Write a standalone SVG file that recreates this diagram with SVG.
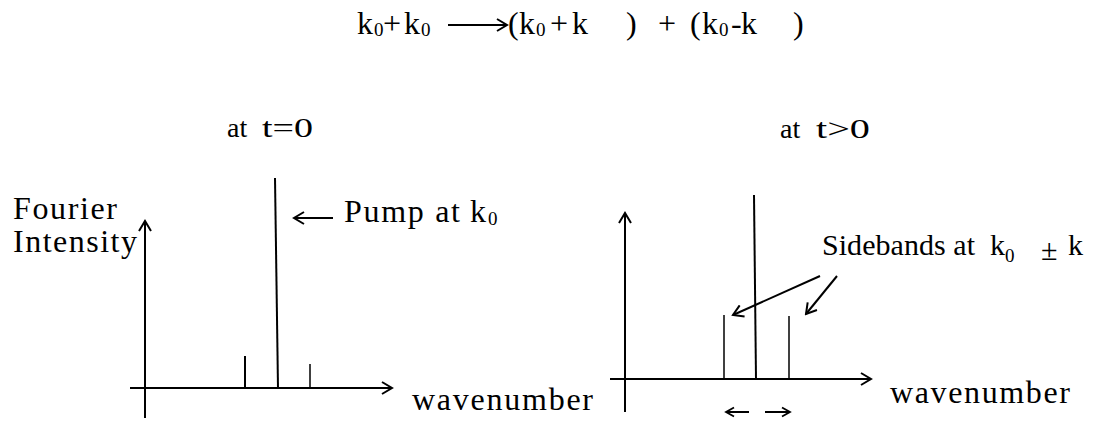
<svg xmlns="http://www.w3.org/2000/svg" width="1105" height="421" viewBox="0 0 1105 421">
<style>
text{font-family:Liberation Serif,Times New Roman,Times,DejaVu Serif,serif;fill:#000}
.eq{font-size:32px}
.sub{font-size:19px}
.lbl{font-size:30px}
.big{font-size:32px}
.ttl{font-size:28px}
.ln{stroke:#000;fill:none}
</style>
<defs>
<marker id="ah" markerWidth="14" markerHeight="14" refX="12" refY="7" orient="auto" markerUnits="userSpaceOnUse"><path d="M2,1 L12,7 L2,13" fill="none" stroke="#000" stroke-width="2"/></marker>
<marker id="ahs" markerWidth="12" markerHeight="12" refX="10" refY="6" orient="auto" markerUnits="userSpaceOnUse"><path d="M2,1.5 L10,6 L2,10.5" fill="none" stroke="#000" stroke-width="1.8"/></marker>
</defs>
<rect width="1105" height="421" fill="#fff"/>
<g id="equation">
<text class="eq" x="357" y="34">k</text><text class="sub" x="374" y="36">0</text>
<text class="eq" x="383" y="34">+</text>
<text class="eq" x="404" y="34">k</text><text class="sub" x="421" y="36">0</text>
<line class="ln" x1="448" y1="25" x2="507" y2="25" stroke-width="2" marker-end="url(#ah)"/>
<text class="eq" x="508" y="34">(</text>
<text class="eq" x="519" y="34">k</text><text class="sub" x="536" y="36">0</text>
<text class="eq" x="550" y="34">+</text>
<text class="eq" x="572" y="34">k</text>
<text class="eq" x="626" y="34">)</text>
<text class="eq" x="658" y="34">+</text>
<text class="eq" x="690" y="34">(</text>
<text class="eq" x="702" y="34">k</text><text class="sub" x="719" y="36">0</text>
<text class="eq" x="731" y="34">-</text>
<text class="eq" x="741" y="34">k</text>
<text class="eq" x="793" y="34">)</text>
</g>
<g id="title-left">
<text class="ttl" x="227" y="137">at</text>
<text class="ttl" x="262" y="137" textLength="51" lengthAdjust="spacingAndGlyphs">t=0</text>
</g>
<g id="title-right">
<text class="ttl" x="780" y="138">at</text>
<text class="ttl" x="816" y="138" textLength="54" lengthAdjust="spacingAndGlyphs">t&gt;0</text>
</g>
<g id="plot-left">
<line class="ln" x1="145" y1="418" x2="145" y2="221" stroke-width="2" marker-end="url(#ah)"/>
<line class="ln" x1="130" y1="388" x2="392" y2="388" stroke-width="2.2" marker-end="url(#ah)"/>
<line class="ln" x1="245" y1="356" x2="245" y2="388" stroke-width="2"/>
<line class="ln" x1="275" y1="178" x2="278" y2="388" stroke-width="2"/>
<line class="ln" x1="310" y1="364" x2="310" y2="388" stroke-width="1.5"/>
<text class="big" x="13" y="219" textLength="104" lengthAdjust="spacing">Fourier</text>
<text class="big" x="13" y="252" textLength="124" lengthAdjust="spacing">Intensity</text>
<text class="big" x="412" y="410" textLength="181" lengthAdjust="spacing">wavenumber</text>
</g>
<g id="pump-label">
<line class="ln" x1="333" y1="218" x2="294" y2="218" stroke-width="2" marker-end="url(#ah)"/>
<text class="big" x="344" y="222" textLength="116" lengthAdjust="spacing">Pump at</text>
<text class="big" x="470" y="222">k</text><text class="sub" x="488" y="225">0</text>
</g>
<g id="plot-right">
<line class="ln" x1="625" y1="412" x2="625" y2="213" stroke-width="2" marker-end="url(#ah)"/>
<line class="ln" x1="610" y1="379" x2="871" y2="379" stroke-width="2.2" marker-end="url(#ah)"/>
<line class="ln" x1="724" y1="315" x2="724" y2="379" stroke-width="1.5"/>
<line class="ln" x1="754" y1="195" x2="756" y2="379" stroke-width="2"/>
<line class="ln" x1="789" y1="316" x2="789" y2="379" stroke-width="1.5"/>
<text class="big" x="890" y="403" textLength="180" lengthAdjust="spacing">wavenumber</text>
</g>
<g id="sidebands-label">
<text class="lbl" x="822" y="255" textLength="153" lengthAdjust="spacing">Sidebands at</text>
<text class="lbl" x="990" y="255">k</text><text class="sub" x="1005" y="262">0</text>
<text class="lbl" x="1041" y="260">±</text>
<text class="lbl" x="1068" y="255">k</text>
</g>
<g id="connectors">
<line class="ln" x1="820" y1="276" x2="733" y2="315" stroke-width="2" marker-end="url(#ah)"/>
<line class="ln" x1="837" y1="276" x2="806" y2="314" stroke-width="2" marker-end="url(#ah)"/>
<line class="ln" x1="749" y1="412" x2="726" y2="412" stroke-width="2" marker-end="url(#ahs)"/>
<line class="ln" x1="765" y1="412" x2="790" y2="412" stroke-width="2" marker-end="url(#ahs)"/>
</g>
</svg>
